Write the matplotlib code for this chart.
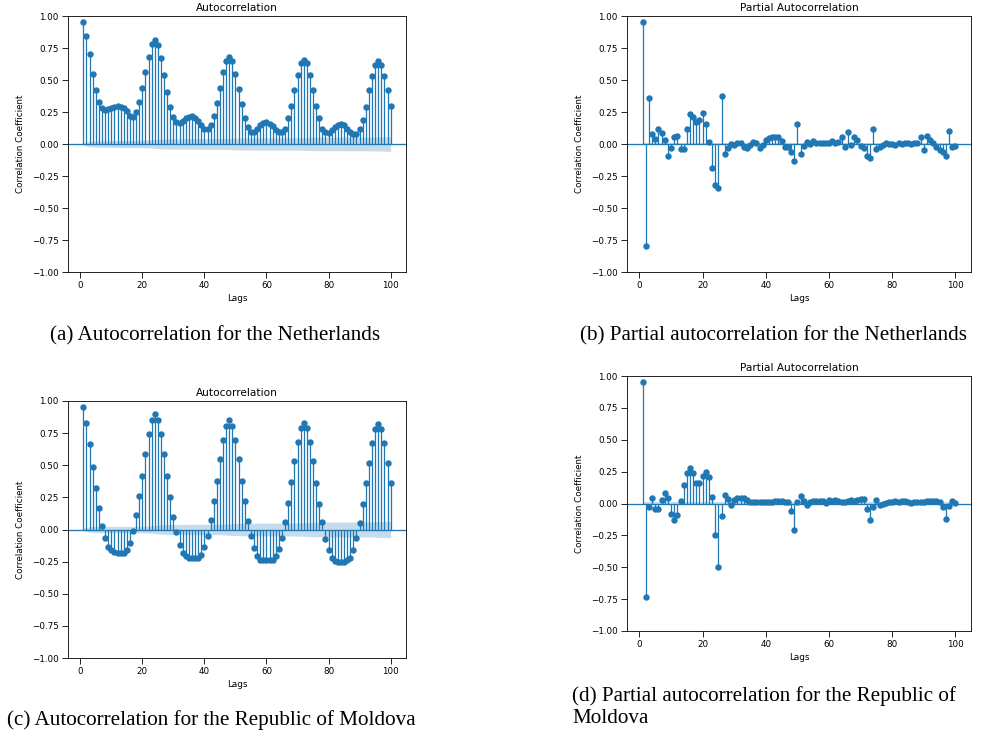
import numpy as np
import matplotlib
matplotlib.use("Agg")
import matplotlib.pyplot as plt

lags = np.arange(1, 101)

acf_nl = [0.955, 0.846, 0.70, 0.55, 0.42, 0.33, 0.28, 0.265, 0.27, 0.28,
          0.29, 0.295, 0.29, 0.28, 0.255, 0.22, 0.213, 0.25, 0.33, 0.435,
          0.56, 0.68, 0.78, 0.81, 0.77, 0.67, 0.54, 0.41, 0.29, 0.21,
          0.17, 0.165, 0.18, 0.20, 0.21, 0.215, 0.20, 0.18, 0.15, 0.12,
          0.12, 0.15, 0.22, 0.32, 0.44, 0.56, 0.65, 0.68, 0.65, 0.55,
          0.43, 0.31, 0.20, 0.13, 0.09, 0.09, 0.12, 0.15, 0.165, 0.17,
          0.16, 0.14, 0.11, 0.09, 0.09, 0.12, 0.20, 0.30, 0.42, 0.54,
          0.63, 0.66, 0.63, 0.54, 0.42, 0.30, 0.20, 0.12, 0.09, 0.085,
          0.11, 0.13, 0.15, 0.16, 0.15, 0.12, 0.09, 0.08, 0.08, 0.12,
          0.19, 0.29, 0.42, 0.53, 0.62, 0.65, 0.62, 0.53, 0.42, 0.30]

pacf_nl = [0.955, -0.80, 0.36, 0.08, 0.04, 0.115, 0.083, 0.03, -0.094, -0.034,
           0.057, 0.065, -0.036, -0.04, 0.115, 0.237, 0.21, 0.17, 0.19, 0.245,
           0.154, 0.016, -0.185, -0.32, -0.34, 0.375, -0.075, -0.034, 0.0, -0.008,
           0.005, 0.01, -0.026, -0.03, -0.01, 0.018, 0.01, -0.034, -0.01, 0.03,
           0.05, 0.052, 0.052, 0.052, 0.02, -0.023, -0.02, -0.066, -0.135, 0.155,
           -0.078, -0.013, 0.018, -0.003, 0.026, 0.01, 0.01, 0.01, 0.01, 0.01,
           0.026, 0.005, 0.013, 0.052, -0.026, 0.096, -0.005, 0.052, 0.03, -0.013,
           -0.03, -0.09, -0.11, 0.12, -0.04, -0.026, -0.005, 0.01, 0.0, 0.0,
           -0.005, 0.005, 0.0, 0.005, 0.01, 0.0, 0.01, 0.01, 0.057, -0.045,
           0.06, 0.03, 0.005, -0.02, -0.047, -0.06, -0.094, 0.10, -0.02, -0.016]

acf_md = [0.95, 0.83, 0.667, 0.49, 0.32, 0.164, 0.03, -0.07, -0.135, -0.16,
          -0.175, -0.18, -0.185, -0.18, -0.16, -0.105, -0.013, 0.11, 0.26, 0.42,
          0.59, 0.745, 0.856, 0.90, 0.856, 0.745, 0.59, 0.42, 0.25, 0.10,
          -0.023, -0.12, -0.18, -0.21, -0.22, -0.22, -0.22, -0.22, -0.20, -0.14,
          -0.05, 0.073, 0.22, 0.38, 0.55, 0.70, 0.807, 0.85, 0.807, 0.70,
          0.55, 0.38, 0.22, 0.07, -0.054, -0.145, -0.21, -0.235, -0.24, -0.24,
          -0.24, -0.235, -0.21, -0.155, -0.068, 0.062, 0.205, 0.37, 0.53, 0.68,
          0.79, 0.83, 0.79, 0.68, 0.53, 0.365, 0.20, 0.055, -0.073, -0.16,
          -0.22, -0.245, -0.25, -0.25, -0.25, -0.24, -0.22, -0.16, -0.068, 0.05,
          0.20, 0.36, 0.52, 0.67, 0.78, 0.82, 0.78, 0.67, 0.52, 0.36]

pacf_md = [0.955, -0.73, -0.03, 0.04, -0.044, -0.044, 0.027, 0.08, 0.04, -0.083,
           -0.13, -0.09, 0.02, 0.147, 0.236, 0.275, 0.236, 0.16, 0.16, 0.216,
           0.25, 0.205, 0.053, -0.25, -0.50, -0.10, 0.066, 0.035, -0.01, 0.03,
           0.04, 0.04, 0.047, 0.025, 0.008, 0.012, 0.015, 0.015, 0.012, 0.008,
           0.01, 0.015, 0.02, 0.022, 0.02, 0.015, 0.01, -0.055, -0.205, 0.008,
           0.06, 0.016, -0.013, 0.008, 0.016, 0.016, 0.021, 0.016, 0.003, 0.026,
           0.021, 0.026, 0.016, 0.013, 0.008, 0.021, 0.026, 0.016, 0.026, 0.034,
           0.034, -0.04, -0.13, -0.03, 0.026, -0.01, 0.0, 0.005, 0.013, 0.013,
           0.021, 0.008, 0.021, 0.016, 0.013, 0.005, 0.008, 0.008, 0.013, 0.008,
           0.016, 0.021, 0.021, 0.021, 0.013, -0.03, -0.118, -0.018, 0.021, 0.005]

nobs = 38000

titles = ["Autocorrelation", "Partial Autocorrelation",
          "Autocorrelation", "Partial Autocorrelation"]
captions = ["(a) Autocorrelation for the Netherlands",
            "(b) Partial autocorrelation for the Netherlands",
            "(c) Autocorrelation for the Republic of Moldova",
            "(d) Partial autocorrelation for the Republic of\nMoldova"]

W, H = 984, 740
fig = plt.figure(figsize=(W / 100, H / 100), dpi=100)

# axes rectangles in pixels: left, top, width, height
rects = [(68, 16, 338, 256), (627, 16, 344, 256),
         (68, 401, 338, 257), (627, 376, 344, 255)]
series = [acf_nl, pacf_nl, acf_md, pacf_md]
kinds = ["acf", "pacf", "acf", "pacf"]
cap_pos = [(215, 336, "center"), (774, 336, "center"),
           (211, 720, "center"), (572, 707, "left")]

C0 = "#1f77b4"
FS = 6.3


def bartlett(r, n):
    r = np.asarray(r)
    var = np.ones(len(r)) / n
    var[1:] *= 1 + 2 * np.cumsum(r[:-1] ** 2)
    return 1.96 * np.sqrt(var)


for i in range(4):
    l, t, w, h = rects[i]
    ax = fig.add_axes([l / W, 1 - (t + h) / H, w / W, h / H])
    vals = np.asarray(series[i])
    if kinds[i] == "acf":
        band = bartlett(vals, nobs)
    else:
        band = np.full(len(vals), 1.96 / np.sqrt(nobs))
    ax.fill_between(lags, -band, band, alpha=0.25, color=C0, linewidth=0)
    ax.vlines(lags, 0, vals, color=C0, linewidth=0.9)
    ax.axhline(0, color=C0, linewidth=0.95)
    ax.plot(lags, vals, marker="o", markersize=3.6, linestyle="None", color=C0)
    ax.set_xlim(1 - 0.05 * 99, 100 + 0.05 * 99)
    ax.set_ylim(-1, 1)
    yt = np.arange(-1, 1.01, 0.25)
    ax.set_yticks(yt)
    ax.set_yticklabels([f"{v:.2f}".replace("-", "\u2212") for v in yt])
    ax.set_xticks([0, 20, 40, 60, 80, 100])
    ax.tick_params(labelsize=FS, length=4.2, width=0.6, pad=2.5)
    for s in ax.spines.values():
        s.set_linewidth(0.6)
    ax.set_title(titles[i], fontsize=7.6, pad=3.5)
    ax.set_xlabel("Lags", fontsize=FS, labelpad=2.5)
    ax.set_ylabel("Correlation Coefficient", fontsize=FS, labelpad=5)
    cx, cy, ha = cap_pos[i]
    fig.text(cx / W, 1 - cy / H, captions[i], fontsize=15.2,
             family="Liberation Serif", ha=ha, va="center",
             linespacing=1.15)

fig.savefig("out.png", dpi=100)
